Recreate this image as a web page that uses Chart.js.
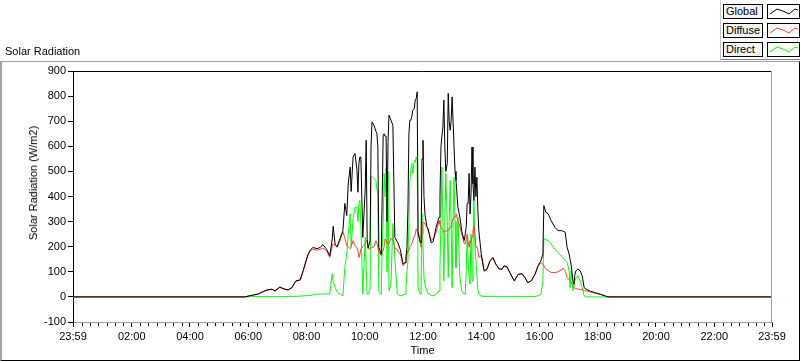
<!DOCTYPE html>
<html>
<head>
<meta charset="utf-8">
<script src="https://cdn.jsdelivr.net/npm/chart.js@4.4.1/dist/chart.umd.min.js"></script>
<style>
body{margin:0;background:#fff;font-family:"Liberation Sans",Arial,sans-serif;font-size:11px;}
#wrap{position:relative;width:800px;height:361px;overflow:hidden;}
#panel{position:absolute;left:0;top:61px;width:800px;height:300px;box-sizing:border-box;border-top:1px solid #a0a0a0;border-left:2px solid #a0a0a0;border-right:1px solid #000;border-bottom:1px solid #000;}
canvas{position:absolute;left:0;top:0;}
#title{position:absolute;left:5px;top:45px;}
#ytitle{position:absolute;left:33px;top:183px;transform:translate(-50%,-50%) rotate(-90deg);white-space:nowrap;}
#legend{position:absolute;left:720px;top:0;width:80px;height:60px;box-sizing:border-box;border-left:1px solid #c8c8c8;border-bottom:1px solid #808080;background:#fff;}
.lab{position:absolute;left:2px;width:40px;height:15px;box-sizing:border-box;border:1px solid #000;background:#f4f4f4;padding-left:2px;line-height:13px;}
.sw{position:absolute;left:46px;width:33px;height:15px;box-sizing:border-box;border:1px solid #000;background:#fff;}
</style>
</head>
<body>
<div id="wrap">
<div id="panel"></div>
<canvas id="chart" width="800" height="361"></canvas>
<div id="title">Solar Radiation</div>
<div id="ytitle">Solar Radiation (W/m2)</div>
<div id="legend"></div>
</div>
<script>
// minutes after midnight (23:59 of the day before = -1)
var times = [-1, 353, 364, 380, 388, 399, 409, 415, 425, 432, 442, 450, 458, 467, 473, 479, 483, 487, 493, 502,
  508, 514, 522, 528, 533, 535, 539, 543, 549, 555, 559, 563, 566, 570, 572, 576, 580, 584, 586, 588,
  590, 592, 596, 601, 603, 605, 607, 611, 613, 615, 619, 623, 625, 627, 629, 634, 636, 638, 640, 642,
  644, 646, 648, 650, 654, 658, 662, 667, 669, 673, 675, 679, 683, 685, 687, 689, 691, 693, 695, 697,
  699, 702, 704, 706, 708, 710, 714, 716, 718, 720, 722, 724, 728, 730, 737, 741, 747, 753, 755, 757,
  759, 761, 763, 765, 767, 770, 772, 774, 776, 778, 780, 782, 784, 786, 788, 792, 796, 800, 805, 807,
  809, 811, 813, 815, 817, 819, 821, 823, 825, 827, 829, 831, 833, 835, 840, 846, 852, 858, 864, 870,
  877, 883, 887, 893, 899, 908, 916, 924, 930, 936, 943, 951, 957, 963, 967, 969, 973, 978, 984, 992,
  998, 1006, 1008, 1013, 1017, 1021, 1023, 1025, 1029, 1031, 1033, 1035, 1039, 1044, 1048, 1052, 1056, 1064, 1074, 1085,
  1095, 1101, 1439];

var globalRad = [0, 0, 5, 11, 19, 28, 31, 24, 40, 33, 28, 37, 64, 68, 104, 144, 168, 184, 197, 192,
  197, 208, 188, 164, 230, 281, 210, 200, 232, 264, 372, 324, 450, 517, 420, 557, 571, 504, 417, 532,
  557, 557, 237, 430, 624, 230, 195, 224, 600, 697, 684, 660, 651, 600, 197, 170, 400, 644, 650, 640,
  640, 300, 620, 724, 704, 684, 237, 220, 212, 190, 171, 131, 137, 160, 197, 350, 651, 704, 704, 720,
  744, 750, 784, 790, 817, 260, 220, 215, 550, 624, 400, 331, 280, 275, 215, 220, 277, 317, 400, 597,
  640, 677, 784, 600, 500, 532, 811, 700, 664, 700, 797, 700, 597, 500, 464, 357, 317, 260, 225, 250,
  277, 372, 372, 492, 331, 412, 597, 450, 384, 517, 400, 477, 350, 264, 171, 104, 111, 144, 157, 131,
  111, 111, 124, 120, 97, 64, 90, 93, 77, 57, 64, 91, 124, 144, 170, 364, 337, 331, 304, 277,
  264, 264, 262, 257, 197, 171, 150, 131, 64, 50, 90, 104, 111, 104, 84, 37, 31, 24, 17, 11,
  4, 0, 0];

var diffuseRad = [0, 0, 5, 11, 18, 27, 30, 23, 38, 32, 27, 36, 62, 66, 100, 140, 165, 182, 190, 186,
  190, 195, 182, 157, 200, 212, 205, 197, 224, 260, 235, 204, 200, 192, 200, 224, 205, 197, 180, 157,
  171, 190, 200, 210, 224, 224, 190, 192, 195, 197, 200, 224, 215, 200, 180, 164, 184, 184, 200, 232,
  225, 215, 212, 212, 232, 232, 192, 190, 180, 171, 160, 124, 135, 144, 170, 184, 184, 200, 205, 212,
  224, 240, 250, 271, 260, 251, 220, 197, 250, 297, 297, 290, 277, 270, 225, 230, 257, 304, 290, 277,
  270, 265, 257, 260, 262, 264, 264, 270, 277, 277, 300, 310, 317, 320, 331, 304, 280, 251, 212, 212,
  230, 251, 220, 197, 224, 217, 240, 260, 284, 250, 197, 200, 190, 157, 165, 102, 110, 142, 155, 130,
  110, 110, 122, 118, 96, 63, 88, 92, 76, 56, 63, 90, 122, 137, 131, 125, 111, 105, 97, 97,
  100, 108, 115, 104, 77, 70, 64, 60, 45, 37, 35, 33, 31, 30, 28, 27, 24, 20, 15, 10,
  4, 0, 0];

var directRad = [0, 0, 1, 1, 1, 1, 1, 1, 1, 1, 2, 2, 2, 3, 4, 5, 5, 6, 8, 11,
  11, 12, 11, 12, 92, 60, 37, 20, 11, 5, 117, 171, 250, 331, 200, 312, 357, 357, 300, 372,
  384, 290, 11, 237, 120, 11, 11, 30, 477, 480, 472, 464, 430, 412, 24, 10, 197, 300, 492, 400,
  512, 100, 500, 24, 51, 292, 157, 11, 8, 5, 5, 8, 11, 37, 100, 144, 300, 464, 504, 532,
  492, 544, 537, 557, 540, 37, 11, 11, 331, 331, 77, 50, 24, 15, 5, 5, 10, 24, 117, 300,
  517, 300, 64, 300, 492, 300, 77, 300, 464, 300, 37, 300, 477, 300, 117, 317, 77, 24, 11, 11,
  100, 237, 144, 77, 51, 251, 64, 200, 384, 197, 150, 91, 30, 11, 3, 2, 2, 2, 2, 2,
  2, 2, 2, 2, 2, 2, 2, 2, 2, 1, 1, 2, 4, 11, 60, 232, 228, 224, 210, 190,
  177, 160, 155, 145, 137, 104, 37, 104, 24, 40, 64, 75, 84, 64, 37, 5, 0, 0, 0, 0,
  0, 0, 0];

var tickMinutes = [-1, 120, 240, 360, 480, 600, 720, 840, 960, 1080, 1200, 1320, 1439];
var tickLabels = ['23:59', '02:00', '04:00', '06:00', '08:00', '10:00', '12:00', '14:00', '16:00', '18:00', '20:00', '22:00', '23:59'];

var seriesNames = ['Global', 'Diffuse', 'Direct'];
var seriesColors = ['#000000', '#ff3c3c', '#00ff00'];

function pts(vals) {
  return times.map(function (t, i) { return {x: t, y: vals[i]}; });
}

// LabVIEW style plot legend
var legend = document.getElementById('legend');
seriesNames.forEach(function (name, i) {
  var top = [4, 23, 42][i];
  var lab = document.createElement('div');
  lab.className = 'lab';
  lab.style.top = top + 'px';
  lab.textContent = name;
  legend.appendChild(lab);
  var sw = document.createElement('div');
  sw.className = 'sw';
  sw.style.top = top + 'px';
  sw.innerHTML = '<svg width="31" height="13"><polyline points="2,9 9,4 15,6 21,9 27,4 30,5" fill="none" stroke="' + seriesColors[i] + '" stroke-width="1"/></svg>';
  legend.appendChild(sw);
});

var frame = {
  id: 'frame',
  afterDraw: function (chart) {
    var c = chart.ctx, a = chart.chartArea, xs = chart.scales.x;
    c.save();
    c.lineWidth = 1;
    c.strokeStyle = '#000';
    c.beginPath();
    c.moveTo(a.left, a.top + 0.5);
    c.lineTo(a.right, a.top + 0.5);
    c.stroke();
    c.strokeStyle = '#a0a0a0';
    c.beginPath();
    c.moveTo(a.right - 0.5, a.top);
    c.lineTo(a.right - 0.5, a.bottom);
    c.stroke();
    // minor ticks
    c.strokeStyle = '#000';
    c.beginPath();
    for (var k = 0; k < 12; k++) {
      for (var j = 1; j < 7; j++) {
        var px = Math.round(xs.getPixelForValue(k * 120 + j * 120 / 7)) + 0.5;
        c.moveTo(px, a.bottom + 1);
        c.lineTo(px, a.bottom + 4);
      }
    }
    c.stroke();
    c.restore();
  }
};

var font = {family: '"Liberation Sans", Arial, sans-serif', size: 11};

var chart = new Chart(document.getElementById('chart').getContext('2d'), {
  type: 'line',
  data: {
    datasets: [{
      label: 'Global',
      data: pts(globalRad),
      borderColor: seriesColors[0],
      borderWidth: 1,
      pointRadius: 0,
      tension: 0
    }, {
      label: 'Diffuse',
      data: pts(diffuseRad),
      borderColor: seriesColors[1],
      borderWidth: 1,
      pointRadius: 0,
      tension: 0
    }, {
      label: 'Direct',
      data: pts(directRad),
      borderColor: seriesColors[2],
      borderWidth: 1,
      pointRadius: 0,
      tension: 0
    }]
  },
  options: {
    responsive: false,
    animation: false,
    devicePixelRatio: 1,
    layout: {padding: {left: 0, right: 28, top: 71, bottom: 0}},
    plugins: {legend: {display: false}, tooltip: {enabled: false}},
    scales: {
      x: {
        type: 'linear',
        min: -1,
        max: 1439,
        afterFit: function (s) { s.height = 39; },
        afterBuildTicks: function (s) {
          s.ticks = tickMinutes.map(function (v) { return {value: v}; });
        },
        grid: {drawOnChartArea: false, drawTicks: true, tickLength: 5, tickColor: '#000'},
        border: {display: true, color: '#a0a0a0'},
        ticks: {
          autoSkip: false,
          maxRotation: 0,
          padding: 3,
          color: '#000',
          font: font,
          callback: function (v) {
            var i = tickMinutes.indexOf(v);
            return i >= 0 ? tickLabels[i] : '';
          }
        },
        title: {display: true, text: 'Time', color: '#000', font: font, padding: {top: 0, bottom: 3}}
      },
      y: {
        min: -100,
        max: 900,
        afterFit: function (s) { s.width = 73; },
        grid: {drawOnChartArea: false, drawTicks: true, tickLength: 5, tickColor: '#000'},
        border: {display: true, color: '#000'},
        ticks: {stepSize: 100, padding: 2, color: '#000', font: font}
      }
    }
  },
  plugins: [frame]
});
</script>
</body>
</html>
